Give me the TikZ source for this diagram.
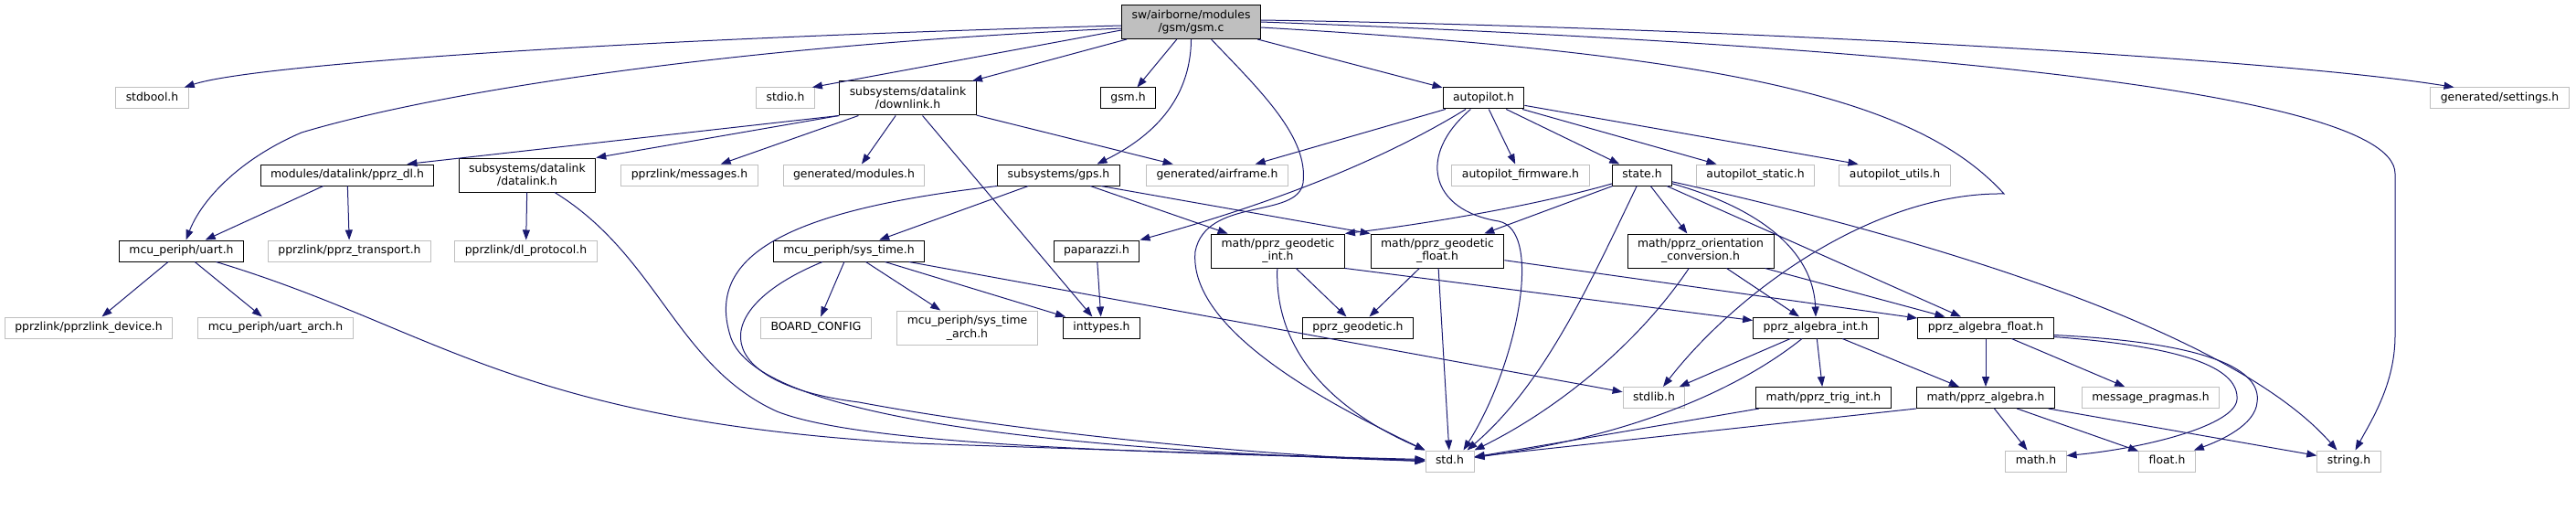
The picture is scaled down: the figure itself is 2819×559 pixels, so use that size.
\documentclass[tikz,border=0pt]{standalone}
\usepackage{fontspec}
\setmainfont{DejaVu Sans}
\usetikzlibrary{arrows.meta}
\definecolor{edge}{HTML}{191970}
\definecolor{lgray}{HTML}{BFBFBF}

\begin{document}
\begin{tikzpicture}[
  x=1pt, y=-1pt,
  font=\fontsize{12.4}{14.5}\selectfont,
  hd/.style={draw=black, line width=1pt, fill=white, align=center,
             inner xsep=11pt, inner ysep=2pt, minimum height=23pt,
             text height=9.5pt, text depth=3pt},
  ext/.style={hd, draw=lgray},
  src/.style={hd, fill=lgray},
  dbl/.style={text height={}, text depth={}, minimum height=37pt},
  a/.style={-{Triangle[length=11pt, width=8pt]}, line width=1pt, color=edge}]

\useasboundingbox (0,0) rectangle (2819,559);

\node[src, dbl] (gsmc) at (1303.5,24) {sw/airborne/modules\\/gsm/gsm.c};

\node[ext] (stdbool) at (166.5,107.5) {stdbool.h};
\node[ext] (stdio) at (859.5,107.5) {stdio.h};
\node[hd, dbl] (downlink) at (993.5,107.5) {subsystems/datalink\\/downlink.h};
\node[hd] (gsmh) at (1234.5,107.5) {gsm.h};
\node[hd] (autopilot) at (1623.5,107.5) {autopilot.h};
\node[ext] (settings) at (2735.5,107.5) {generated/settings.h};

\node[hd] (pprzdl) at (380,191.5) {modules/datalink/pprz\_dl.h};
\node[hd, dbl] (datalink) at (577,191.5) {subsystems/datalink\\/datalink.h};
\node[ext] (messages) at (754.5,191.5) {pprzlink/messages.h};
\node[ext] (modules) at (934.5,191.5) {generated/modules.h};
\node[hd] (gps) at (1158.5,191.5) {subsystems/gps.h};
\node[ext] (airframe) at (1332,191.5) {generated/airframe.h};
\node[ext] (apfirmware) at (1664,191.5) {autopilot\_firmware.h};
\node[hd] (state) at (1797,191.5) {state.h};
\node[ext] (apstatic) at (1921,191.5) {autopilot\_static.h};
\node[ext] (aputils) at (2073.5,191.5) {autopilot\_utils.h};

\node[hd] (uart) at (198.5,274.5) {mcu\_periph/uart.h};
\node[ext] (transport) at (382.5,274.5) {pprzlink/pprz\_transport.h};
\node[ext] (dlproto) at (575.5,274.5) {pprzlink/dl\_protocol.h};
\node[hd] (systime) at (929,274.5) {mcu\_periph/sys\_time.h};
\node[hd] (paparazzi) at (1200,274.5) {paparazzi.h};
\node[hd, dbl] (geoint) at (1398.5,274.5) {math/pprz\_geodetic\\\_int.h};
\node[hd, dbl] (geofloat) at (1573,274.5) {math/pprz\_geodetic\\\_float.h};
\node[hd, dbl] (orient) at (1861,274.5) {math/pprz\_orientation\\\_conversion.h};

\node[ext] (device) at (97,358.5) {pprzlink/pprzlink\_device.h};
\node[ext] (uartarch) at (301.5,358.5) {mcu\_periph/uart\_arch.h};
\node[ext] (boardcfg) at (893,358.5) {BOARD\_CONFIG};
\node[ext, dbl] (systarch) at (1058.5,358.5) {mcu\_periph/sys\_time\\\_arch.h};
\node[hd] (inttypes) at (1205.5,358.5) {inttypes.h};
\node[hd] (geodetic) at (1486,358.5) {pprz\_geodetic.h};
\node[hd] (algint) at (1987,358.5) {pprz\_algebra\_int.h};
\node[hd] (algfloat) at (2173,358.5) {pprz\_algebra\_float.h};

\node[ext] (stdlib) at (1810,435) {stdlib.h};
\node[hd] (trigint) at (1995.5,435) {math/pprz\_trig\_int.h};
\node[hd] (algebra) at (2173,435) {math/pprz\_algebra.h};
\node[ext] (pragmas) at (2353.5,435) {message\_pragmas.h};

\node[ext] (stdh) at (1586.5,504.5) {std.h};
\node[ext] (mathh) at (2228,504.5) {math.h};
\node[ext] (floath) at (2371.5,504.5) {float.h};
\node[ext] (stringh) at (2570.5,504.5) {string.h};

\foreach \s/\t in {gsmc/downlink, gsmc/gsmh, gsmc/autopilot,
    downlink/messages, downlink/modules, downlink/inttypes, downlink/airframe,
    pprzdl/uart, pprzdl/transport, datalink/dlproto, uart/device, uart/uartarch,
    gps/systime, gps/geoint, systime/boardcfg, systime/systarch,
    systime/inttypes, systime/stdlib, paparazzi/inttypes,
    autopilot/airframe, autopilot/apfirmware, autopilot/state, autopilot/apstatic,
    state/geofloat, state/orient, state/algfloat,
    geoint/geodetic, geofloat/geodetic, geofloat/stdh, geofloat/algfloat,
    orient/algint, orient/algfloat, algint/stdlib, algint/trigint, algint/algebra,
    algfloat/algebra, algfloat/pragmas, algebra/mathh, algebra/floath,
    algebra/stringh, trigint/stdh} {
  \draw[a] (\s) -- (\t);
}

\draw[a] ([yshift=-9]gsmc.west) -- ([xshift=-3]stdio.north east);
\draw[a] (downlink.south west) -- ([xshift=-30]pprzdl.north east);
\draw[a] (downlink.south west) -- (datalink.north east);
\draw[a] ([xshift=-21]gps.south east) -- (geofloat.north west);
\draw[a] (autopilot) -- ([xshift=-40]aputils.north);
\draw[a] (geoint.south east) -- ([yshift=8]algint.west);
\draw[a] (algebra.south west) -- ([yshift=5]stdh.east);

\draw[a] ([yshift=-4]gsmc.west) .. controls (700,42) and (280,70)
      .. ([xshift=-5]stdbool.north east);
\draw[a] ([yshift=-7]gsmc.west) .. controls (800,50) and (480,100) .. (330,145)
      .. controls (260,175) and (220,220) .. ([xshift=5]uart.north);
\draw[a] (gsmc.south) .. controls (1303,110) and (1260,150)
      .. ([xshift=42]gps.north);
\draw[a] ([xshift=22]gsmc.south) .. controls (1380,100) and (1432,150) .. (1426,200)
      .. controls (1420,240) and (1320,215) .. (1308,275)
      .. controls (1300,360) and (1450,440) .. (stdh.north west);
\draw[a] ([yshift=2]gsmc.east) .. controls (1900,30) and (2500,65)
      .. ([xshift=-50]settings.north);
\draw[a] (gsmc.east) .. controls (1950,45) and (2621,90) .. (2621,190) -- (2621,367)
      .. controls (2621,420) and (2595,460) .. ([xshift=7]stringh.north);
\draw[a] ([yshift=-6]gsmc.east) .. controls (1900,60) and (2100,110) .. (2193,212)
      .. controls (2050,210) and (1900,320) .. ([xshift=10]stdlib.north);

\draw[a] ([xshift=38]uart.south) .. controls (480,360) and (560,460) .. (1000,485)
      .. controls (1300,495) and (1450,500) .. ([yshift=2]stdh.west);
\draw[a] ([xshift=30]datalink.south) .. controls (720,280) and (740,400) .. (850,450)
      .. controls (950,490) and (1300,495) .. ([yshift=1]stdh.west);
\draw[a] (gps.south west) .. controls (860,230) and (770,280) .. (800,370)
      .. controls (830,450) and (1100,490) .. (stdh.west);
\draw[a] ([xshift=-29]systime.south) .. controls (770,340) and (780,420) .. (940,440)
      .. controls (1100,470) and (1350,497) .. (stdh.west);

\draw[a] (autopilot) .. controls (1530,165) and (1420,215) .. (paparazzi.north east);
\draw[a] (autopilot) .. controls (1550,170) and (1565,230) .. (1640,242)
      .. controls (1690,252) and (1660,400) .. ([xshift=-12]stdh.north east);

\draw[a] (state) .. controls (1680,225) and (1560,245) .. (geoint.north east);
\draw[a] (state) .. controls (1740,310) and (1690,420) .. ([xshift=-8]stdh.north east);
\draw[a] (state) .. controls (1950,235) and (1985,290) .. (algint.north);
\draw[a] (state) .. controls (2150,270) and (2450,370) .. ([xshift=-13]stringh.north);

\draw[a] (geoint) .. controls (1395,370) and (1440,440) .. (stdh.north west);
\draw[a] (orient) .. controls (1790,380) and (1700,450) .. (stdh.north east);
\draw[a] (algint) .. controls (1910,420) and (1800,475) .. ([yshift=4]stdh.east);

\draw[a] ([yshift=-8]algfloat.east) .. controls (2420,375) and (2475,405) .. (2470,440)
      .. controls (2468,465) and (2430,482) .. ([xshift=-2]floath.north east);
\draw[a] ([yshift=-10]algfloat.east) .. controls (2400,380) and (2450,405) .. (2448,437)
      .. controls (2446,465) and (2350,490) .. ([yshift=6]mathh.east);
\end{tikzpicture}
\end{document}
